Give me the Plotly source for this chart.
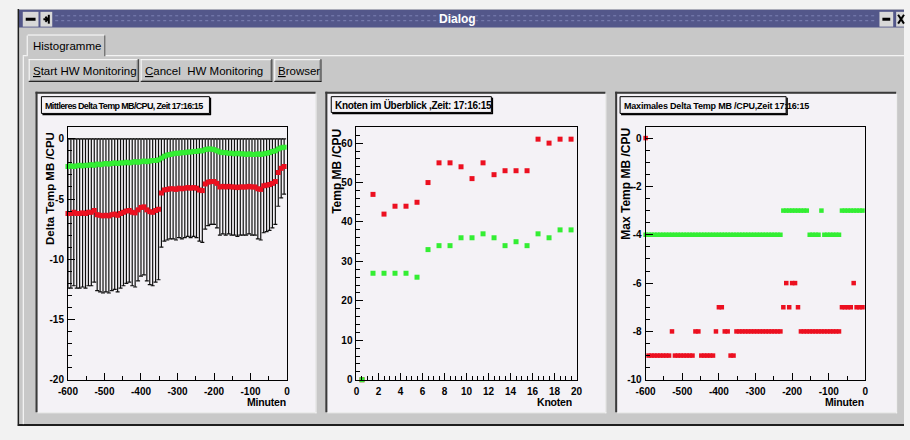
import plotly.graph_objects as go

W, H = 910, 440

# ---------------------------------------------------------------- data
# sample times of the monitoring runs (minutes before now)
minutes = list(range(-600, 0, 8))

# Mittleres Delta Temp MB/CPU : mean per sample, two node groups
mean_red = [
    -6.2, -6.2, -6.1, -6.2, -6.2, -6.15, -6.2, -6.1, -6.1, -5.95,
    -6.3, -6.35, -6.4, -6.35, -6.4, -6.3, -6.25, -6.35, -6.2, -6.1,
    -6.0, -5.95, -6.1, -6.15, -5.9, -5.7, -5.65, -5.9, -6.05, -6.1,
    -5.95, -5.85, -4.5, -4.25, -4.2, -4.15, -4.15, -4.2, -4.1, -4.15,
    -4.1, -4.05, -4.1, -4.05, -4.1, -4.25, -4.3, -3.75, -3.6, -3.55,
    -3.55, -3.7, -4.0, -3.95, -4.0, -3.95, -4.0, -4.0, -4.05, -4.0,
    -4.0, -4.0, -3.95, -4.0, -4.0, -4.15, -4.2, -3.9, -3.85, -3.8,
    -3.7, -3.55, -2.8, -2.45, -2.3,
]
mean_green = [
    -2.3, -2.25, -2.3, -2.25, -2.2, -2.25, -2.2, -2.2, -2.15, -2.2,
    -2.1, -2.15, -2.1, -2.05, -2.1, -2.05, -2.0, -2.05, -2.0, -2.0,
    -1.95, -2.0, -1.95, -1.9, -1.95, -1.9, -1.85, -1.9, -1.85, -1.8,
    -1.8, -1.75, -1.6, -1.45, -1.35, -1.3, -1.25, -1.2, -1.2, -1.15,
    -1.15, -1.1, -1.1, -1.05, -1.05, -1.0, -1.0, -0.9, -0.85, -0.85,
    -0.9, -1.0, -1.1, -1.15, -1.15, -1.2, -1.2, -1.25, -1.2, -1.25,
    -1.25, -1.3, -1.25, -1.3, -1.3, -1.25, -1.3, -1.25, -1.2, -1.15,
    -1.05, -1.0, -0.85, -0.75, -0.7,
]
# spread bars of the red group reach from zero to twice the mean
red_spread = [abs(v) for v in mean_red]

# Knoten im Ueberblick : temperature per node
knoten = [0.5, 1.5, 2.5, 3.5, 4.5, 5.5, 6.5, 7.5, 8.5, 9.5,
          10.5, 11.5, 12.5, 13.5, 14.5, 15.5, 16.5, 17.5, 18.5, 19.5]
temp_red = [0, 47, 42, 44, 44, 45, 50, 55, 55, 54,
            51, 55, 52, 53, 53, 53, 61, 60, 61, 61]
temp_green = [0, 27, 27, 27, 27, 26, 33, 34, 34, 36,
              36, 37, 36, 34, 35, 34, 37, 36, 38, 38]

# Maximales Delta Temp MB/CPU per sample
max_red = (
    [0] + [-9] * 8 + [-8] + [-9] * 7 + [-8] * 2 + [-9] * 5 + [-8]
    + [-7] * 2 + [-8] * 2 + [-9] * 2 + [-8] * 16 + [-7] + [-6] + [-7]
    + [-6] * 2 + [-7] + [-8] * 14 + [-7] * 4 + [-6] + [-7] * 3
)
max_green = (
    [-4] * 47 + [-3] * 9 + [-4] * 4 + [-3] + [-4] * 6 + [-3] * 8
)

# axis ticks
minute_ticks = [-600, -500, -400, -300, -200, -100, 0]
mean_ticks = [0, -5, -10, -15, -20]
knoten_ticks = [0, 2, 4, 6, 8, 10, 12, 14, 16, 18, 20]
temp_ticks = [0, 10, 20, 30, 40, 50, 60]
max_ticks = [0, -2, -4, -6, -8, -10]

# ---------------------------------------------------------------- style
RED = "#ec1020"
GREEN = "#33ee33"
GUI = "#c8c8c8"
CANVAS = "#f4f2f6"
SANS = "Liberation Sans, Arial, sans-serif"

shapes = []
annotations = []


def X(px):
    return px / W


def Y(py):
    return 1 - py / H


def box(x0, y0, x1, y1, fill, line_color=None, lw=0):
    shapes.append(dict(type="rect", xref="paper", yref="paper",
                       x0=X(x0), x1=X(x1), y0=Y(y1), y1=Y(y0),
                       fillcolor=fill,
                       line=dict(color=line_color or fill, width=lw),
                       layer="below"))


def seg(x0, y0, x1, y1, color, lw=1, dash="solid"):
    shapes.append(dict(type="line", xref="paper", yref="paper",
                       x0=X(x0), x1=X(x1), y0=Y(y0), y1=Y(y1),
                       line=dict(color=color, width=lw, dash=dash),
                       layer="below"))


def label(text, x, y, size=12, color="black", weight="normal",
          xanchor="left", yanchor="middle", angle=0, spacing=None):
    if spacing is not None:
        text = f'<span style="letter-spacing:{spacing}px">{text}</span>'
    annotations.append(dict(text=text, x=X(x), y=Y(y), xref="paper", yref="paper",
                            showarrow=False, xanchor=xanchor, yanchor=yanchor,
                            textangle=angle, borderpad=0,
                            font=dict(size=size, color=color, family=SANS,
                                      weight=weight)))


# ---------------------------------------------------------------- window chrome
box(8, 9, 910, 432, GUI)
box(9, 10, 910, 28, "#53578a")
for yy in (16, 21):
    seg(46, yy, 882, yy, "#7d82b4", 1, "dot")
label("<b>Dialog</b>", 455, 19, size=12, color="white", xanchor="center")

# title bar buttons
box(13, 12, 29, 27, "#d8d8d8")
seg(16, 19.5, 26, 19.5, "black", 3)
box(31, 12, 43, 27, "#d8d8d8")
seg(34, 19.5, 39, 19.5, "black", 2)
seg(39.5, 15, 39.5, 24, "black", 2)
seg(36, 17, 38.5, 19.5, "black", 2)
seg(36, 22, 38.5, 19.5, "black", 2)
box(885, 12, 899, 27, "#d8d8d8")
seg(888, 19.5, 896, 19.5, "black", 3)
box(902, 12, 910, 27, "#d8d8d8")
seg(904, 15, 910, 24, "black", 2)
seg(904, 24, 910, 15, "black", 2)

# window border
seg(8.5, 9, 8.5, 432, "#1e1e1e", 1.5)
seg(8, 431, 910, 431, "#1e1e1e", 2)

# tab "Histogramme" and its page
box(17, 35, 97, 57, GUI)
seg(13, 56.5, 17, 56.5, "white")
seg(97, 56.5, 910, 56.5, "white")
seg(13.5, 57, 13.5, 430, "white")
seg(17.5, 57, 17.5, 36, "white")
seg(18, 35.5, 96, 35.5, "white")
seg(96.5, 36, 96.5, 57, "#555555")
label("Histogramme", 22, 46.5, size=11.5)

# buttons
buttons = [(19, 131, "<u>S</u>tart HW Monitoring"),
           (133, 267, "<u>C</u>ancel  HW Monitoring"),
           (269, 317, "<u>B</u>rowser")]
for bx0, bx1, btxt in buttons:
    box(bx0, 60, bx1, 83, GUI)
    seg(bx0 + 0.5, 60, bx0 + 0.5, 83, "white")
    seg(bx0, 60.5, bx1, 60.5, "white")
    seg(bx1 - 0.5, 60, bx1 - 0.5, 83, "#111111")
    seg(bx0, 82.5, bx1, 82.5, "#111111")
    seg(bx1 - 1.5, 61, bx1 - 1.5, 82, "#8a8a8a")
    seg(bx0 + 1, 81.5, bx1 - 1, 81.5, "#8a8a8a")
    label(btxt, bx0 + 3, 71.5, size=11.5)

# ---------------------------------------------------------------- canvases
canvases = [(28, 311), (323, 606), (618, 902)]
for cx0, cx1 in canvases:
    box(cx0, 95, cx1, 418, CANVAS)
    seg(cx0 - 1, 93, cx0 - 1, 418, "#3a3a3a", 2)
    seg(cx0 - 2, 94, cx1, 94, "#3a3a3a", 2)
    seg(cx1 + 0.5, 95, cx1 + 0.5, 419, "#f4f4f4")
    seg(cx0, 418.5, cx1 + 1, 418.5, "#f4f4f4")

# title boxes with drop shadow
titles = [(32, 98, 203, 115, "Mittleres Delta Temp MB/CPU, Zeit 17:16:15", 9, -0.65),
          (327, 98, 490, 114, "Knoten im Überblick ,Zeit: 17:16:15", 10, -0.3),
          (621, 98, 790, 115, "Maximales Delta Temp MB /CPU,Zeit 17:16:15", 9, -0.2)]
for tx0, ty0, tx1, ty1, ttxt, tsize, tspace in titles:
    box(tx0, ty0, tx1, ty1, CANVAS, "black", 1)
    seg(tx1 + 1, ty0 + 1, tx1 + 1, ty1 + 1.5, "black", 1.5)
    seg(tx0 + 1, ty1 + 1, tx1 + 1.5, ty1 + 1, "black", 1.5)
    label(ttxt, tx0 + 2.5, (ty0 + ty1) / 2 + 0.5, size=tsize, weight="bold",
          spacing=tspace)

# axis titles
label("Delta Temp MB /CPU", 40, 133, size=11.5, weight="bold",
      xanchor="center", yanchor="top", angle=-90)
label("Temp MB /CPU", 333, 130, size=12, weight="bold",
      xanchor="center", yanchor="top", angle=-90)
label("Max Temp MB /CPU", 627.5, 128, size=12, weight="bold",
      xanchor="center", yanchor="top", angle=-90)
label("Minuten", 282, 408, size=10.5, weight="bold", xanchor="right", spacing=-0.2)
label("Knoten", 573, 408, size=10.5, weight="bold", xanchor="right", spacing=-0.2)
label("Minuten", 870, 408, size=10.5, weight="bold", xanchor="right", spacing=-0.2)

# ---------------------------------------------------------------- traces
square = dict(symbol="square", line=dict(width=0))

fig = go.Figure()
fig.add_trace(go.Scatter(
    x=minutes, y=mean_red, mode="markers", xaxis="x", yaxis="y",
    marker=dict(size=5, color=RED, **square),
    error_y=dict(type="data", array=red_spread, color="#101010",
                 thickness=1.2, width=2),
    cliponaxis=False, showlegend=False, hoverinfo="skip"))
fig.add_trace(go.Scatter(
    x=minutes, y=mean_green, mode="markers", xaxis="x", yaxis="y",
    marker=dict(size=5, color=GREEN, **square),
    cliponaxis=False, showlegend=False, hoverinfo="skip"))

fig.add_trace(go.Scatter(
    x=knoten, y=temp_red, mode="markers", xaxis="x2", yaxis="y2",
    marker=dict(size=5, color=RED, **square),
    cliponaxis=False, showlegend=False, hoverinfo="skip"))
fig.add_trace(go.Scatter(
    x=knoten, y=temp_green, mode="markers", xaxis="x2", yaxis="y2",
    marker=dict(size=5, color=GREEN, **square),
    cliponaxis=False, showlegend=False, hoverinfo="skip"))

fig.add_trace(go.Scatter(
    x=minutes, y=max_red, mode="markers", xaxis="x3", yaxis="y3",
    marker=dict(size=4.5, color=RED, **square),
    cliponaxis=False, showlegend=False, hoverinfo="skip"))
fig.add_trace(go.Scatter(
    x=minutes, y=max_green, mode="markers", xaxis="x3", yaxis="y3",
    marker=dict(size=4.5, color=GREEN, **square),
    cliponaxis=False, showlegend=False, hoverinfo="skip"))

# ---------------------------------------------------------------- axes
TICKFONT = dict(family=SANS, size=10, color="black", weight="bold")


def axis(dom, rng, ticks, minor_step, anchor, standoff):
    return dict(domain=dom, range=rng, anchor=anchor,
                tickmode="array", tickvals=ticks,
                ticktext=[str(t) for t in ticks],
                ticks="inside", ticklen=7, tickwidth=1, tickcolor="black",
                minor=dict(ticks="inside", ticklen=4, tickwidth=1,
                           tickcolor="black", tick0=0, dtick=minor_step,
                           showgrid=False),
                showline=True, linecolor="black", linewidth=1, mirror=True,
                showgrid=False, zeroline=False, fixedrange=True,
                tickfont=TICKFONT, ticklabelstandoff=standoff)


fig.update_layout(
    width=W, height=H, autosize=False,
    margin=dict(l=0, r=0, t=0, b=0, pad=0),
    paper_bgcolor="#f2f2f2", plot_bgcolor=CANVAS,
    shapes=shapes, annotations=annotations,
    xaxis=axis([X(59), X(282)], [-600, 0], minute_ticks, 50, "y", 2),
    yaxis=axis([Y(385), Y(129)], [-20, 0.958], mean_ticks, 1, "x", 1),
    xaxis2=axis([X(352.7), X(576.7)], [0, 20], knoten_ticks, 0.5, "y2", 2),
    yaxis2=axis([Y(385), Y(128.3)], [0, 64.2], temp_ticks, 2, "x2", 1),
    xaxis3=axis([X(647), X(870.7)], [-600, 0], minute_ticks, 50, "y3", 2),
    yaxis3=axis([Y(385), Y(129)], [-10, 0.449], max_ticks, 0.5, "x3", 1),
)

fig.write_html("out.html")
